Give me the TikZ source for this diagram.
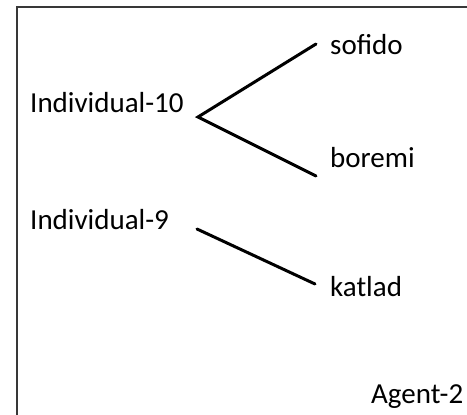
\documentclass[tikz,border=0pt]{standalone}
\usepackage{fontspec}
\setmainfont{Carlito}
\begin{document}
\begin{tikzpicture}[x=1pt,y=-1pt,
  lbl/.style={anchor=base west,inner sep=0pt,font=\fontsize{29}{35}\selectfont},
  link/.style={line width=3pt,line cap=round,line join=miter,black}]
\useasboundingbox (0,0) rectangle (467,415);
\begin{scope}
\clip (0,0) rectangle (467,415);
% outer frame, running off the right and bottom edges
\draw[line width=2pt,color=black!78] (16.5,6.5) rectangle (490,440);
% labels
\node[lbl] (ind10) at (30,112) {Individual-10};
\node[lbl] (ind9) at (30,229) {Individual-9};
\node[lbl] (sofido) at (330,55) {sofido};
\node[lbl] (boremi) at (330,167) {boremi};
\node[lbl] (katlad) at (330,296) {katlad};
\node[lbl] (agent) at (371,403) {Agent-2};
% connector end points
\coordinate (v10) at (198,117);
\coordinate (s) at (316,44);
\coordinate (b) at (316,176);
\coordinate (v9) at (197,229);
\coordinate (k) at (315,284);
% connectors
\draw[link] (s) -- (v10) -- (b);
\draw[link] (v9) -- (k);
\end{scope}
\end{tikzpicture}
\end{document}
